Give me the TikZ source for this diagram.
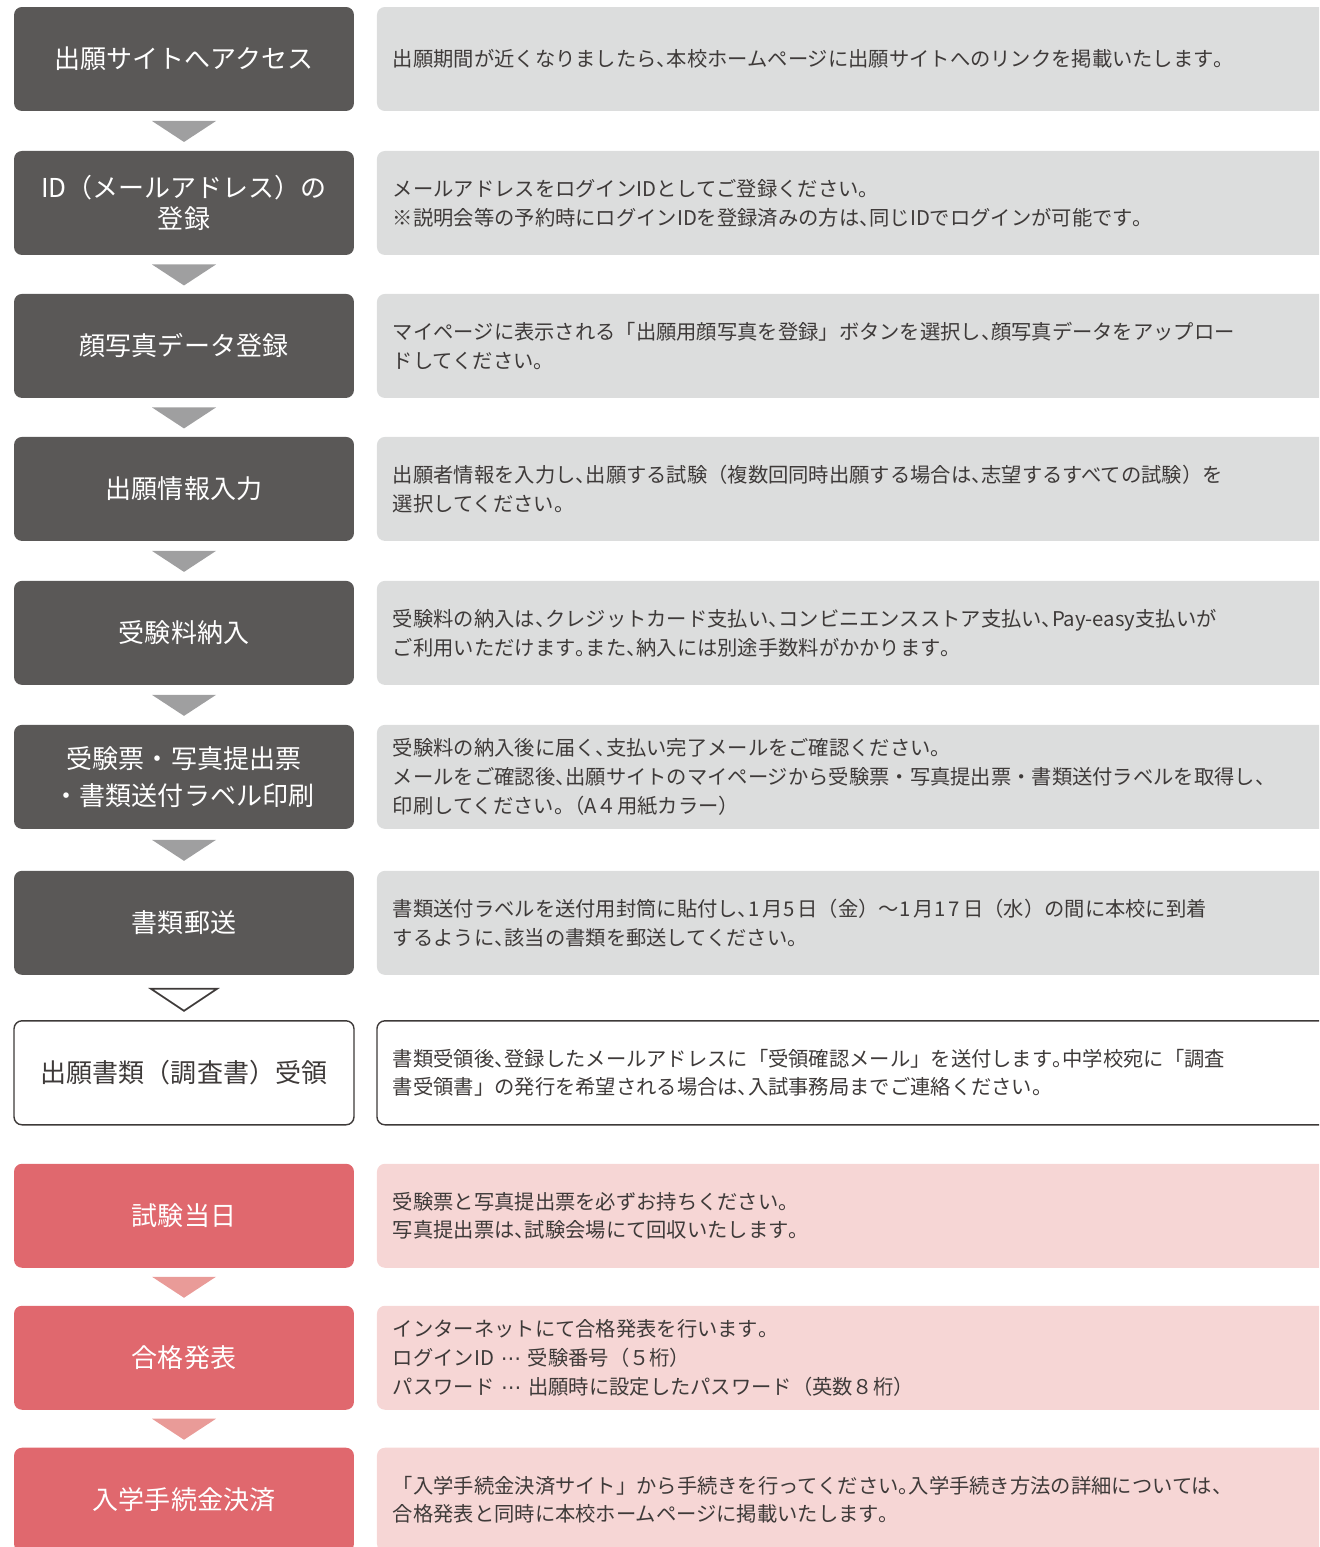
\documentclass[tikz,border=0pt]{standalone}
\usepackage{fontspec}
\setmainfont{Noto Sans CJK JP}
\newfontfamily\halffont{Noto Sans CJK JP}[RawFeature=+halt]
\newfontfamily\symbfont{DejaVu Sans}
\newcommand\hw[1]{{\halffont #1}}
\usetikzlibrary{positioning,calc}

\definecolor{darkbox}{HTML}{5A5857}
\definecolor{lightbox}{HTML}{DCDDDD}
\definecolor{grayarrow}{HTML}{9F9FA0}
\definecolor{pinkbox}{HTML}{E0686E}
\definecolor{pinklight}{HTML}{F6D6D5}
\definecolor{pinkarrow}{HTML}{E99B98}
\definecolor{inktext}{HTML}{3E3A39}

\tikzset{
  titlebox/.style={rectangle,rounded corners=4.5pt,minimum width=6.8cm,minimum height=2.08cm,
    inner sep=0pt,outer sep=0pt,align=center,font=\fontsize{14.8}{18}\selectfont},
  darkstep/.style={titlebox,fill=darkbox,text=white},
  openstep/.style={titlebox,draw=inktext,line width=0.8pt,fill=white,text=inktext},
  pinkstep/.style={titlebox,fill=pinkbox,text=white},
  infobox/.style={rectangle,rounded corners=4.5pt,minimum height=2.08cm,text width=18.62cm,
    inner xsep=0.32cm,inner ysep=0pt,outer sep=0pt,align=left,text=inktext,
    font=\fontsize{11.55}{16.4}\selectfont},
  grayinfo/.style={infobox,fill=lightbox},
  openinfo/.style={infobox,draw=inktext,line width=0.8pt,fill=white},
  pinkinfo/.style={infobox,fill=pinklight}
}

\begin{document}
\begin{tikzpicture}[x=0.02cm,y=-0.02cm,node distance=0.46cm]

\path[use as bounding box,clip] (0,0) rectangle (1319,1547);

\node[darkstep]   (s1)  at (184,59)         {出願サイトへアクセス};
\node[darkstep]   (s2)  [below=0.8cm of s1]   {ID（メールアドレス）の\\登録};
\node[darkstep]   (s3)  [below=0.78cm of s2]  {顔写真データ登録};
\node[darkstep]   (s4)  [below=0.78cm of s3]  {出願情報入力};
\node[darkstep]   (s5)  [below=0.8cm of s4]   {受験料納入};
\node[darkstep]   (s6)  [below=0.8cm of s5]   {受験票・写真提出票\\[3pt]・書類送付ラベル印刷};
\node[darkstep]   (s7)  [below=0.84cm of s6]  {書類郵送};
\node[openstep]   (s8)  [below=0.92cm of s7]  {出願書類（調査書）受領};
\node[pinkstep]   (s9)  [below=0.78cm of s8]  {試験当日};
\node[pinkstep]   (s10) [below=0.76cm of s9]  {合格発表};
\node[pinkstep]   (s11) [below=0.76cm of s10] {入学手続金決済};

\node[grayinfo]   (d1)  [right=of s1]  {出願期間が近くなりましたら\hw{、}本校ホームページに出願サイトへのリンクを掲載いたします\hw{。}};
\node[grayinfo]   (d2)  [right=of s2]  {メールアドレスをログインIDとしてご登録ください\hw{。}\\※説明会等の予約時にログインIDを登録済みの方は\hw{、}同じIDでログインが可能です\hw{。}};
\node[grayinfo]   (d3)  [right=of s3]  {マイページに表示される「出願用顔写真を登録」ボタンを選択し\hw{、}顔写真データをアップロー\\ドしてください\hw{。}};
\node[grayinfo]   (d4)  [right=of s4]  {出願者情報を入力し\hw{、}出願する試験（複数回同時出願する場合は\hw{、}志望するすべての試験）を\\選択してください\hw{。}};
\node[grayinfo]   (d5)  [right=of s5]  {受験料の納入は\hw{、}クレジットカード支払い\hw{、}コンビニエンスストア支払い\hw{、}Pay-easy支払いが\\ご利用いただけます\hw{。}また\hw{、}納入には別途手数料がかかります\hw{。}};
\node[grayinfo]   (d6)  [right=of s6]  {受験料の納入後に届く\hw{、}支払い完了メールをご確認ください\hw{。}\\メールをご確認後\hw{、}出願サイトのマイページから受験票・写真提出票・書類送付ラベルを取得し\hw{、}\\印刷してください\hw{。}（A４用紙カラー）};
\node[grayinfo]   (d7)  [right=of s7]  {書類送付ラベルを送付用封筒に貼付し\hw{、}1\,月5\,日（金）～1\,月1\,7\,日（水）の間に本校に到着\\するように\hw{、}該当の書類を郵送してください\hw{。}};
\node[openinfo]   (d8)  [right=of s8]  {書類受領後\hw{、}登録したメールアドレスに「受領確認メール」を送付します\hw{。}中学校宛に「調査\\書受領書」の発行を希望される場合は\hw{、}入試事務局までご連絡ください\hw{。}};
\node[pinkinfo]   (d9)  [right=of s9]  {受験票と写真提出票を必ずお持ちください\hw{。}\\写真提出票は\hw{、}試験会場にて回収いたします\hw{。}};
\node[pinkinfo]   (d10) [right=of s10] {インターネットにて合格発表を行います\hw{。}\\ログインID {\symbfont ⋯} 受験番号（５桁）\\パスワード {\symbfont ⋯} 出願時に設定したパスワード（英数８桁）};
\node[pinkinfo]   (d11) [right=of s11] {「入学手続金決済サイト」から手続きを行ってください\hw{。}入学手続き方法の詳細については\hw{、}\\合格発表と同時に本校ホームページに掲載いたします\hw{。}};

% arrows between the steps
\foreach \a/\b in {s1/s2,s2/s3,s3/s4,s4/s5,s5/s6,s6/s7}
  \fill[grayarrow] ($(\a.south)!0.5!(\b.north)$) ++(-32,-10) -- ++(64,0) -- ++(-32,21) -- cycle;
\draw[inktext,line width=1pt,line join=miter] ($(s7.south)!0.5!(s8.north)$) ++(-33,-9) -- ++(66,0) -- ++(-33,22) -- cycle;
\foreach \a/\b in {s9/s10,s10/s11}
  \fill[pinkarrow] ($(\a.south)!0.5!(\b.north)$) ++(-32,-10) -- ++(64,0) -- ++(-32,21) -- cycle;

\end{tikzpicture}
\end{document}
